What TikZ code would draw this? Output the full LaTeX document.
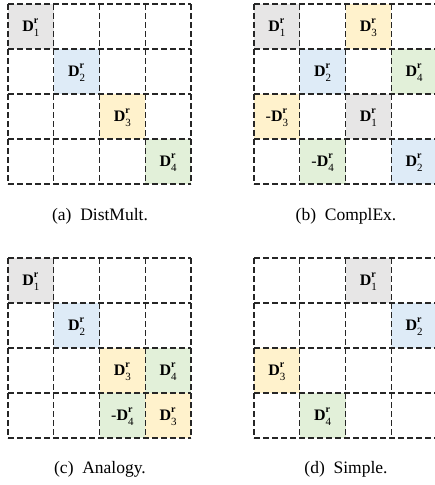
\documentclass[tikz,border=0pt]{standalone}
\usepackage{fontspec}
\setmainfont{Liberation Serif}
\definecolor{cgray}{HTML}{E7E6E6}
\definecolor{cblue}{HTML}{DEEBF7}
\definecolor{cyel}{HTML}{FFF2CC}
\definecolor{cgreen}{HTML}{E2F0D9}
\newcommand\supsub[1]{\makebox[0pt][l]{\raisebox{8pt}{\fontsize{10}{10}\selectfont\bfseries r}}\raisebox{-5pt}{\fontsize{11}{11}\selectfont #1}}
\newcommand\lab[1]{\textbf{D}\supsub{#1}}
\newcommand\nlab[1]{-\textbf{D}\supsub{#1}}
\newcommand\dgrid[2]{%
  \foreach \i in {0,...,4}{%
    \draw[gl] ({#1+\i*45.75},#2) -- ++(0,180);
    \draw[gl] (#1,{#2+\i*45}) -- ++(183,0);
  }}
\newcommand\cell[6]{% name, x0, y0, col, row, color/text
  \fill[#6] ({#2+#4*45.75},{#3+#5*45}) rectangle ++(45.75,45);
  \node[cellbox] (#1) at ({#2+22.875+#4*45.75},{#3+24+#5*45})}
\begin{document}
\begin{tikzpicture}[x=1pt,y=-1pt,
  gl/.style={draw=black!85,line width=1.3pt,dash pattern=on 5.5pt off 3.5pt},
  cellbox/.style={inner sep=0pt,draw=none,font=\fontsize{16}{18}\selectfont},
  capstyle/.style={font=\fontsize{17.5}{19}\selectfont,inner sep=0pt}]
\useasboundingbox (0,0) rectangle (435,485);
% (a)
\cell{a1}{8}{4}{0}{0}{cgray} {\lab{1}};
\cell{a2}{8}{4}{1}{1}{cblue} {\lab{2}};
\cell{a3}{8}{4}{2}{2}{cyel} {\lab{3}};
\cell{a4}{8}{4}{3}{3}{cgreen} {\lab{4}};
\dgrid{8}{4}
\node[capstyle] (capa) at (100,216) {(a)\hspace{0.5em}DistMult.};
% (b)
\cell{b1}{254}{4}{0}{0}{cgray} {\lab{1}};
\cell{b2}{254}{4}{2}{0}{cyel} {\lab{3}};
\cell{b3}{254}{4}{1}{1}{cblue} {\lab{2}};
\cell{b4}{254}{4}{3}{1}{cgreen} {\lab{4}};
\cell{b5}{254}{4}{0}{2}{cyel} {\nlab{3}};
\cell{b6}{254}{4}{2}{2}{cgray} {\lab{1}};
\cell{b7}{254}{4}{1}{3}{cgreen} {\nlab{4}};
\cell{b8}{254}{4}{3}{3}{cblue} {\lab{2}};
\dgrid{254}{4}
\node[capstyle] (capb) at (346,216) {(b)\hspace{0.5em}ComplEx.};
% (c)
\cell{c1}{8}{258}{0}{0}{cgray} {\lab{1}};
\cell{c2}{8}{258}{1}{1}{cblue} {\lab{2}};
\cell{c3}{8}{258}{2}{2}{cyel} {\lab{3}};
\cell{c4}{8}{258}{3}{2}{cgreen} {\lab{4}};
\cell{c5}{8}{258}{2}{3}{cgreen} {\nlab{4}};
\cell{c6}{8}{258}{3}{3}{cyel} {\lab{3}};
\dgrid{8}{258}
\node[capstyle] (capc) at (100,469) {(c)\hspace{0.5em}Analogy.};
% (d)
\cell{d1}{254}{258}{2}{0}{cgray} {\lab{1}};
\cell{d2}{254}{258}{3}{1}{cblue} {\lab{2}};
\cell{d3}{254}{258}{0}{2}{cyel} {\lab{3}};
\cell{d4}{254}{258}{1}{3}{cgreen} {\lab{4}};
\dgrid{254}{258}
\node[capstyle] (capd) at (346,469) {(d)\hspace{0.5em}Simple.};
\end{tikzpicture}
\end{document}
